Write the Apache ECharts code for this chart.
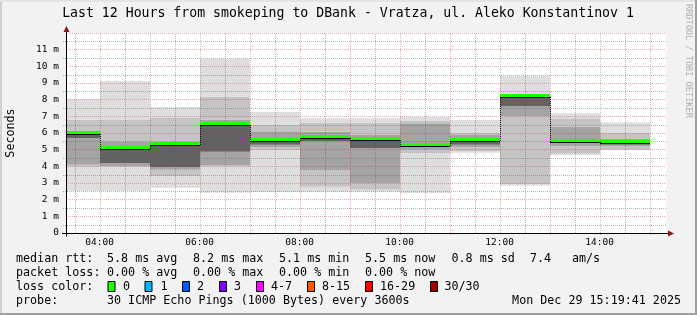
<!DOCTYPE html>
<html><head><meta charset="utf-8">
<script src="https://cdn.jsdelivr.net/npm/echarts@6/dist/echarts.min.js"></script>
<style>html,body{margin:0;padding:0;background:#f2f2f2}#c{width:697px;height:315px}</style>
</head><body><div id="c"></div>
<script>
// ---------------- data ----------------
const titleText = 'Last 12 Hours from smokeping to DBank - Vratza, ul. Aleko Konstantinov 1';
const windowEnd = '15:19:41';
const windowHours = 12;
const binStarts = ['03:00','04:00','05:00','06:00','07:00','08:00','09:00','10:00','11:00','12:00','13:00','14:00'];
const binHours = 1; // 3600 s step
// ping distribution per bin (ms): min, quantiles, median, quantiles, max
const pingMin   = [2.52, 2.52, 2.72, 2.42, 2.46, 2.48, 2.48, 2.38, 4.82, 2.83, 4.68, 4.98];
const pingQ1    = [3.98, 3.98, 3.40, 3.98, 4.98, 2.78, 2.60, 4.78, 4.90, 2.94, 4.75, 5.00];
const pingQ2    = [4.10, 4.00, 3.80, 4.05, 5.14, 3.78, 2.98, 5.00, 5.14, 7.00, 5.20, 5.20];
const pingQ3    = [5.70, 4.18, 3.95, 4.88, 5.30, 5.50, 5.10, 5.20, 5.30, 7.60, 5.40, 5.30];
const medianRtt = [5.98, 5.12, 5.36, 6.52, 5.56, 5.74, 5.64, 5.28, 5.58, 8.20, 5.54, 5.46];
const pingQ5    = [6.02, 5.20, 5.45, 6.60, 5.60, 5.78, 5.66, 5.40, 5.62, 8.22, 5.58, 5.50];
const pingQ6    = [6.10, 5.50, 5.50, 6.80, 6.10, 6.08, 5.90, 6.58, 5.88, 8.25, 6.38, 5.64];
const pingQ7    = [6.80, 6.78, 6.90, 8.18, 6.48, 6.60, 6.60, 6.75, 6.00, 8.28, 6.88, 6.00];
const pingMax   = [8.02, 9.12, 7.54, 10.44, 7.26, 6.88, 6.88, 6.98, 6.78, 9.44, 7.18, 6.64];
const xTickLabels = ['04:00','06:00','08:00','10:00','12:00','14:00'];
const yMax = 12;
const rttStats = ['5.8','8.2','5.1','5.5','0.8','7.4'];
const lossStats = ['0.00','0.00','0.00','0.00'];
const lossLabels = ['0','1','2','3','4-7','8-15','16-29','30/30'];
const probeText = '30 ICMP Echo Pings (1000 Bytes) every 3600s';
const dateText = 'Mon Dec 29 15:19:41 2025';

// ---------------- styles ----------------
const FONT = 'DejaVu Sans Mono';
const smokeColors = ['#dedede', '#c4c4c4', '#a4a4a4', '#626262'];
const medianColor = '#20ff00';
const lossColors = ['#20ff00','#00b8ff','#0059ff','#7e00ff','#ff00ff','#ff5500','#ff0000','#a00000'];
const majorGrid = 'rgba(215,40,40,0.38)';
const minorGrid = 'rgba(90,90,90,0.45)';

// ---------------- helpers ----------------
const hm = s => { const p = s.split(':').map(Number); return p[0] + (p[1]||0)/60 + (p[2]||0)/3600; };
const T1 = hm(windowEnd), T0 = T1 - windowHours;
const smokeData = binStarts.map((b, i) => {
  const s = hm(b);
  return [s, s + binHours, pingMin[i], pingQ1[i], pingQ2[i], pingQ3[i], medianRtt[i], pingQ5[i], pingQ6[i], pingQ7[i], pingMax[i]];
});
const medData = binStarts.map((b, i) => {
  const s = hm(b);
  return [s, s + binHours, medianRtt[i], i > 0 ? medianRtt[i-1] : null];
});
const tickHours = xTickLabels.map(hm);

const chart = echarts.init(document.getElementById('c'), null, {renderer: 'canvas'});

function smokeItem(params, api) {
  const s = api.value(0), e = api.value(1);
  const x0 = Math.round(api.coord([s, 0])[0]), x1 = Math.round(api.coord([e, 0])[0]);
  const children = [];
  for (let k = 0; k < 8; k++) {
    const lo = api.value(2 + k), hi = api.value(3 + k);
    const yLo = api.coord([s, lo])[1], yHi = api.coord([s, hi])[1];
    const level = k < 4 ? k : 7 - k;
    children.push({type: 'rect', shape: {x: x0, y: yHi, width: x1 - x0, height: Math.max(yLo - yHi, 0.01)},
      style: {fill: smokeColors[level]}});
  }
  return {type: 'group', children};
}

function medianItem(params, api) {
  const s = api.value(0), e = api.value(1), m = api.value(2), pv = api.value(3);
  const x0 = Math.round(api.coord([s, 0])[0]), x1 = Math.round(api.coord([e, 0])[0]);
  const ym = Math.round(api.coord([s, m])[1]);
  const children = [
    {type: 'rect', shape: {x: x0, y: ym + 1, width: x1 - x0, height: 1}, style: {fill: '#000'}},
    {type: 'rect', shape: {x: x0, y: ym - 2, width: x1 - x0, height: 3}, style: {fill: medianColor}}
  ];
  if (pv != null && !isNaN(pv)) {
    const yp = Math.round(api.coord([s, pv])[1]);
    children.push({type: 'line', shape: {x1: x0 + 0.5, y1: yp + 1, x2: x0 + 0.5, y2: ym + 1},
      style: {stroke: '#111', lineWidth: 1, lineDash: [1, 1]}});
  }
  return {type: 'group', children};
}

function gridItem(params, api) {
  const [xl, yb] = api.coord([T0, 0]);
  const [xr, yt] = api.coord([T1, yMax]);
  const children = [];
  for (let t = Math.ceil(T0 * 2) / 2; t <= T1; t += 0.5) {
    const x = Math.round(api.coord([t, 0])[0]) + 0.5;
    const major = Math.abs(t - Math.round(t)) < 1e-6;
    children.push({type: 'line', shape: {x1: x, y1: yb + (major ? 2 : 0), x2: x, y2: yt},
      style: {stroke: major ? majorGrid : minorGrid, lineWidth: 1, lineDash: [1, 1]}});
  }
  for (let k = 0; k < yMax; k++) {
    const v = k + 0.5;
    const y = Math.round(api.coord([T0, v])[1]) + 0.5;
    children.push({type: 'polyline', shape: {points: [[xl - 3, y], [xr, y]]},
      style: {stroke: minorGrid, lineWidth: 1, lineDash: [1, 1], fill: null}});
  }
  return {type: 'group', children};
}

function axesItem(params, api) {
  const [xl, yb0] = api.coord([T0, 0]);
  const [xr, yt] = api.coord([T1, yMax]);
  const yb = Math.round(yb0) + 0.5, xa = Math.round(xl) + 0.5;
  const arrow = '#8b1515';
  return {type: 'group', children: [
    {type: 'line', shape: {x1: xl - 4, y1: yb, x2: xr + 3, y2: yb}, style: {stroke: '#000', lineWidth: 1}},
    {type: 'line', shape: {x1: xa, y1: yb + 3, x2: xa, y2: yt - 2}, style: {stroke: '#000', lineWidth: 1}},
    {type: 'polygon', shape: {points: [[xr + 2, yb - 3], [xr + 8, yb], [xr + 2, yb + 3]]}, style: {fill: arrow}},
    {type: 'polygon', shape: {points: [[xa - 3, yt - 1], [xa, yt - 7], [xa + 3, yt - 1]]}, style: {fill: arrow}}
  ]};
}

// legend / text graphics
const txt = (x, y, text, extra) => Object.assign({type: 'text', x, y, silent: true,
  style: Object.assign({text, fill: '#000', font: '11.7px "' + FONT + '"', verticalAlign: 'middle', align: 'left'}, extra || {})});
const graphics = [];
graphics.push({type: 'rect', left: 0, top: 0, shape: {width: 2, height: 315}, style: {fill: '#d0d0d0'}, silent: true});
graphics.push({type: 'rect', left: 0, top: 0, shape: {width: 697, height: 2}, style: {fill: '#e4e4e4'}, silent: true});
graphics.push({type: 'rect', right: 0, top: 0, shape: {width: 2, height: 315}, style: {fill: '#9e9e9e'}, silent: true});
graphics.push({type: 'rect', left: 0, bottom: 0, shape: {width: 697, height: 2}, style: {fill: '#9e9e9e'}, silent: true});
graphics.push(txt(348, 14, titleText, {align: 'center', font: '13.2px "' + FONT + '"'}));
graphics.push({type: 'text', x: 688, y: 4, rotation: -Math.PI / 2, silent: true,
  style: {text: 'RRDTOOL / TOBI OETIKER', fill: '#b0b0b0', font: '8.6px "' + FONT + '"', align: 'left', verticalAlign: 'middle'}});
const rowY = [259, 273, 287, 301];
graphics.push(txt(16, rowY[0], 'median rtt:'));
const rttCols = [107, 193, 279, 365, 451.5];
const rttSuffix = ['ms avg', 'ms max', 'ms min', 'ms now', 'ms sd'];
rttCols.forEach((x, i) => graphics.push(txt(x, rowY[0], rttStats[i] + ' ' + rttSuffix[i])));
graphics.push(txt(530, rowY[0], rttStats[5]));
graphics.push(txt(572, rowY[0], 'am/s'));
graphics.push(txt(16, rowY[1], 'packet loss:'));
const lossSuffix = ['% avg', '% max', '% min', '% now'];
lossStats.forEach((v, i) => graphics.push(txt(rttCols[i], rowY[1], v + ' ' + lossSuffix[i])));
graphics.push(txt(16, rowY[2], 'loss color:'));
const boxX = [108, 145, 182.5, 219.5, 256.5, 307.5, 365.5, 430.5];
const labX = [123, 160.4, 197, 234, 271, 322, 380, 444.4];
lossLabels.forEach((l, i) => {
  graphics.push({type: 'rect', x: boxX[i], y: 281.5, shape: {width: 7, height: 10}, silent: true,
    style: {fill: lossColors[i], stroke: '#000', lineWidth: 1}});
  graphics.push(txt(labX[i], rowY[2], l));
});
graphics.push(txt(16, rowY[3], 'probe:'));
graphics.push(txt(107, rowY[3], probeText));
graphics.push(txt(681, rowY[3], dateText, {align: 'right'}));

chart.setOption({
  animation: false,
  backgroundColor: '#f2f2f2',
  grid: {left: 66, top: 33, width: 600, height: 200, backgroundColor: '#fff', show: true, borderWidth: 0,
    containLabel: false, outerBoundsMode: 'none'},
  xAxis: {
    type: 'value', min: T0, max: T1,
    axisLine: {show: false}, axisTick: {show: false}, splitLine: {show: false},
    axisLabel: {customValues: tickHours, margin: 5, color: '#000', fontFamily: FONT, fontSize: 9.5,
      formatter: v => { const i = tickHours.findIndex(h => Math.abs(h - v) < 1e-6); return i >= 0 ? xTickLabels[i] : ''; }}
  },
  yAxis: {
    type: 'value', min: 0, max: yMax, interval: 1, z: 3,
    name: 'Seconds', nameLocation: 'middle', nameRotate: 90, nameGap: 49,
    nameTextStyle: {color: '#000', fontFamily: FONT, fontSize: 11.7},
    axisLine: {show: false}, axisTick: {show: false},
    splitLine: {show: true, lineStyle: {color: majorGrid, width: 1, type: [1, 1]}},
    axisLabel: {margin: 7, color: '#000', fontFamily: FONT, fontSize: 9.5,
      formatter: v => v === 0 ? '0' : (v >= yMax ? '' : v + ' m')}
  },
  series: [
    {type: 'custom', name: 'smoke', renderItem: smokeItem, data: smokeData, clip: true, z: 2, silent: true},
    {type: 'custom', name: 'grid', renderItem: gridItem, data: [[T0, 0]], clip: false, z: 3, silent: true},
    {type: 'custom', name: 'median', renderItem: medianItem, data: medData, clip: true, z: 4, silent: true},
    {type: 'custom', name: 'axes', renderItem: axesItem, data: [[T0, 0]], clip: false, z: 5, silent: true}
  ],
  graphic: graphics
});
</script></body></html>
